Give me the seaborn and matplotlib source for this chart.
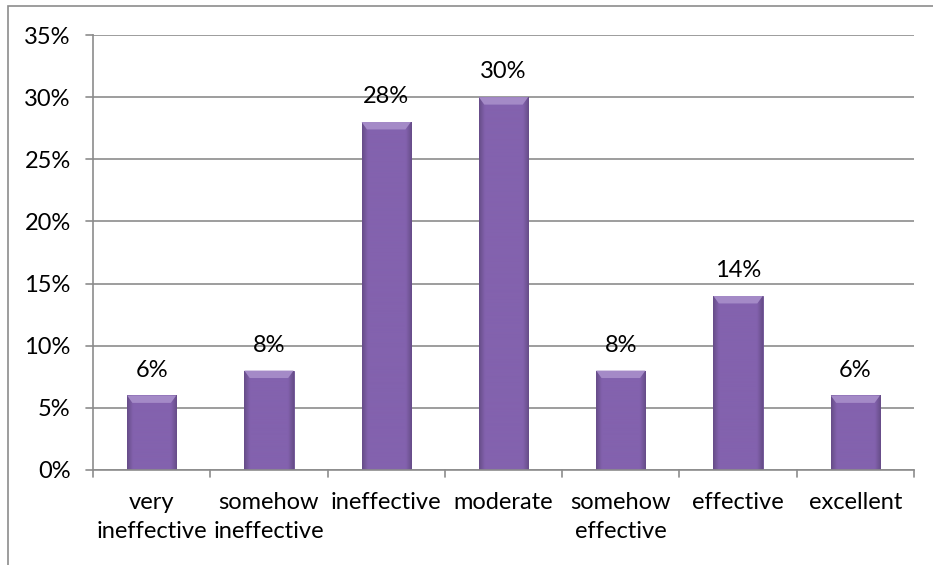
import matplotlib
matplotlib.use("Agg")
import matplotlib.pyplot as plt
import seaborn as sns
import numpy as np
import pandas as pd
from matplotlib.patches import Rectangle, Polygon

categories = ["very\nineffective", "somehow\nineffective", "ineffective", "moderate",
              "somehow\neffective", "effective", "excellent"]
values = [6, 8, 28, 30, 8, 14, 6]
value_labels = ["6%", "8%", "28%", "30%", "8%", "14%", "6%"]
y_ticks = [0, 5, 10, 15, 20, 25, 30, 35]
y_tick_labels = ["0%", "5%", "10%", "15%", "20%", "25%", "30%", "35%"]

sns.set_theme(style="white")
plt.rcParams['font.family'] = ['Lato', 'DejaVu Sans']

W, H = 933, 565
fig = plt.figure(figsize=(W / 100, H / 100), dpi=100)
ax = fig.add_axes([93 / W, 1 - 470 / H, (914 - 93) / W, (470 - 35) / H])

df = pd.DataFrame({"cat": categories, "val": values})
sns.barplot(data=df, x="cat", y="val", color="#8161AC", width=0.42, ax=ax,
            edgecolor="#6A4D92", linewidth=0.6, saturation=1)

# gradient shading on bars (darker at the sides, flat face)
gx = np.linspace(0, 1, 200)
d = np.minimum(gx, 1 - gx)
shade = np.where(d < 0.12, 0.78 + 0.22 * (d / 0.12), 1.0)
base = np.array([0x83, 0x62, 0xAE]) / 255.0
img = np.clip(base[None, None, :] * shade[None, :, None], 0, 1)
for p in list(ax.patches):
    x0, y0 = p.get_x(), p.get_y()
    w, h = p.get_width(), p.get_height()
    im = ax.imshow(img, extent=[x0, x0 + w, y0, y0 + h], aspect="auto",
                   zorder=p.get_zorder() + 0.1, interpolation="bilinear")
    im.set_clip_path(p)
    top = y0 + h
    bev = w * 0.11
    ax.add_patch(Polygon([(x0, top), (x0 + w, top), (x0 + w - bev, top - 0.6),
                          (x0 + bev, top - 0.6)], closed=True,
                         facecolor="#A48AC7", edgecolor="none",
                         zorder=p.get_zorder() + 0.2))

ax.set_xlim(-0.5, len(categories) - 0.5)
ax.set_ylim(0, 35)
ax.set_yticks(y_ticks)
ax.set_yticklabels(y_tick_labels)
ax.yaxis.grid(True, color="#8c8c8c", linewidth=1.2)
ax.set_axisbelow(True)
ax.set_xlabel("")
ax.set_ylabel("")

for i, (v, lab) in enumerate(zip(values, value_labels)):
    ax.text(i, v + 1.2, lab, ha="center", va="bottom", fontsize=17, color="black")

for s in ["top", "right"]:
    ax.spines[s].set_visible(False)
ax.spines["left"].set_color("#8c8c8c")
ax.spines["bottom"].set_color("#8c8c8c")
ax.spines["left"].set_linewidth(1.2)
ax.spines["bottom"].set_linewidth(1.2)

ax.tick_params(axis="y", length=0, pad=16, labelsize=17, colors="black")
ax.tick_params(axis="x", length=0, pad=16, labelsize=17, colors="black")
for lbl in ax.get_xticklabels():
    lbl.set_linespacing(1.45)
# ticks on x between categories
for k in range(len(categories) + 1):
    ax.plot([k - 0.5, k - 0.5], [0, -0.6], color="#8c8c8c", lw=1.2, clip_on=False)
# y tick marks extending left
for t in y_ticks:
    ax.plot([-0.5 - 0.06, -0.5], [t, t], color="#8c8c8c", lw=1.2, clip_on=False)

# outer frame
fig.patches.append(Rectangle((8 / W, -0.1), 1.2, 1 - 6 / H + 0.1, transform=fig.transFigure,
                             fill=False, edgecolor="#8c8c8c", linewidth=1.2))

fig.savefig("out.png", dpi=100)
